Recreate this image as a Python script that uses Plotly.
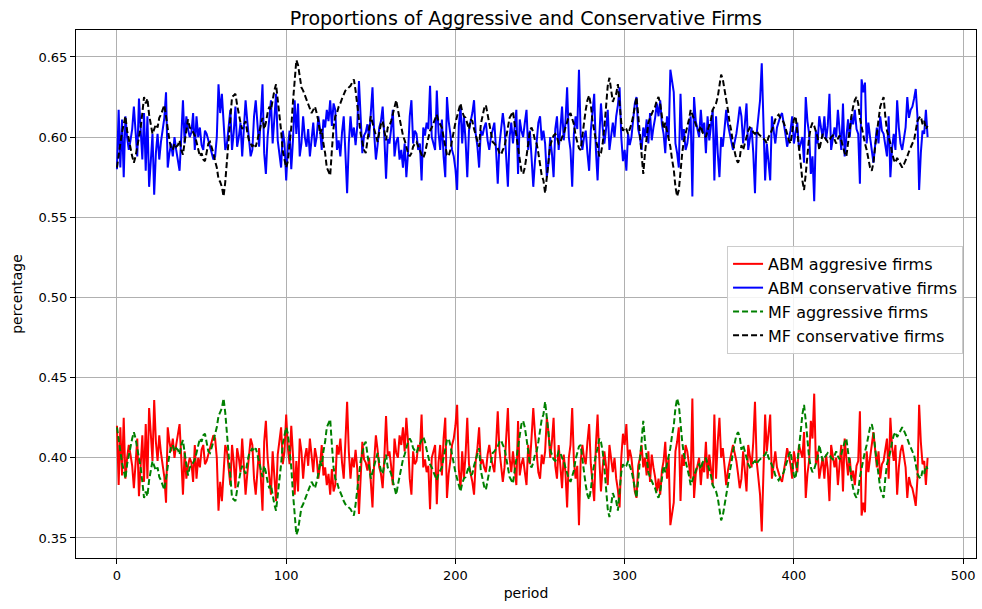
import plotly.graph_objects as go

# Share of conservative firms per period (agent-based model vs. mean-field)
abm_conservative = [
    0.580, 0.617, 0.581, 0.611, 0.575, 0.613, 0.600, 0.592, 0.598, 0.605,
    0.619, 0.600, 0.588, 0.624, 0.600, 0.586, 0.615, 0.579, 0.613, 0.569,
    0.585, 0.602, 0.564, 0.590, 0.602, 0.586, 0.597, 0.606, 0.612, 0.628,
    0.581, 0.590, 0.596, 0.588, 0.600, 0.592, 0.584, 0.579, 0.600, 0.623,
    0.596, 0.613, 0.605, 0.600, 0.603, 0.615, 0.592, 0.613, 0.600, 0.606,
    0.595, 0.592, 0.604, 0.602, 0.598, 0.594, 0.591, 0.586, 0.588, 0.600,
    0.633, 0.615, 0.627, 0.605, 0.592, 0.596, 0.605, 0.617, 0.592, 0.603,
    0.619, 0.594, 0.600, 0.609, 0.588, 0.605, 0.623, 0.610, 0.600, 0.588,
    0.592, 0.613, 0.623, 0.605, 0.594, 0.612, 0.633, 0.590, 0.577, 0.600,
    0.613, 0.623, 0.596, 0.615, 0.627, 0.598, 0.590, 0.581, 0.604, 0.596,
    0.573, 0.594, 0.604, 0.580, 0.598, 0.623, 0.602, 0.621, 0.588, 0.596,
    0.613, 0.600, 0.594, 0.605, 0.588, 0.600, 0.609, 0.594, 0.600, 0.613,
    0.605, 0.592, 0.611, 0.606, 0.617, 0.610, 0.623, 0.607, 0.621, 0.617,
    0.592, 0.598, 0.588, 0.603, 0.613, 0.590, 0.565, 0.596, 0.613, 0.600,
    0.606, 0.595, 0.607, 0.635, 0.613, 0.590, 0.601, 0.603, 0.608, 0.600,
    0.615, 0.631, 0.602, 0.586, 0.595, 0.606, 0.610, 0.619, 0.600, 0.574,
    0.599, 0.596, 0.605, 0.617, 0.588, 0.597, 0.600, 0.586, 0.592, 0.581,
    0.596, 0.575, 0.590, 0.613, 0.623, 0.596, 0.604, 0.602, 0.592, 0.596,
    0.573, 0.606, 0.601, 0.609, 0.605, 0.632, 0.600, 0.595, 0.592, 0.629,
    0.603, 0.592, 0.611, 0.588, 0.575, 0.625, 0.610, 0.602, 0.592, 0.588,
    0.580, 0.567, 0.607, 0.619, 0.596, 0.613, 0.598, 0.575, 0.604, 0.610,
    0.615, 0.623, 0.602, 0.594, 0.581, 0.604, 0.601, 0.606, 0.609, 0.598,
    0.592, 0.600, 0.605, 0.609, 0.592, 0.571, 0.595, 0.606, 0.615, 0.606,
    0.590, 0.569, 0.600, 0.609, 0.596, 0.605, 0.617, 0.577, 0.611, 0.604,
    0.600, 0.609, 0.617, 0.592, 0.604, 0.587, 0.569, 0.585, 0.600, 0.609,
    0.613, 0.598, 0.604, 0.596, 0.575, 0.584, 0.600, 0.590, 0.575, 0.605,
    0.613, 0.592, 0.605, 0.619, 0.598, 0.609, 0.631, 0.600, 0.592, 0.569,
    0.602, 0.613, 0.605, 0.642, 0.602, 0.592, 0.600, 0.604, 0.590, 0.579,
    0.604, 0.615, 0.627, 0.592, 0.573, 0.600, 0.621, 0.606, 0.596, 0.605,
    0.617, 0.592, 0.600, 0.609, 0.600, 0.613, 0.620, 0.631, 0.600, 0.585,
    0.592, 0.579, 0.602, 0.595, 0.600, 0.610, 0.621, 0.625, 0.605, 0.600,
    0.592, 0.606, 0.600, 0.611, 0.596, 0.615, 0.598, 0.606, 0.612, 0.621,
    0.613, 0.623, 0.608, 0.602, 0.590, 0.613, 0.600, 0.642, 0.634, 0.628,
    0.596, 0.590, 0.581, 0.627, 0.598, 0.605, 0.592, 0.596, 0.604, 0.613,
    0.563, 0.625, 0.610, 0.604, 0.600, 0.617, 0.603, 0.609, 0.590, 0.613,
    0.598, 0.607, 0.617, 0.573, 0.613, 0.590, 0.575, 0.600, 0.594, 0.605,
    0.617, 0.608, 0.602, 0.598, 0.592, 0.597, 0.602, 0.610, 0.619, 0.613,
    0.596, 0.608, 0.621, 0.592, 0.599, 0.606, 0.590, 0.565, 0.602, 0.612,
    0.623, 0.646, 0.602, 0.573, 0.596, 0.585, 0.573, 0.613, 0.605, 0.596,
    0.606, 0.610, 0.613, 0.615, 0.609, 0.602, 0.594, 0.599, 0.604, 0.613,
    0.596, 0.603, 0.609, 0.592, 0.596, 0.600, 0.584, 0.625, 0.610, 0.602,
    0.577, 0.588, 0.560, 0.604, 0.596, 0.613, 0.606, 0.600, 0.613, 0.598,
    0.607, 0.627, 0.592, 0.600, 0.606, 0.600, 0.617, 0.604, 0.592, 0.621,
    0.588, 0.600, 0.611, 0.600, 0.613, 0.608, 0.617, 0.605, 0.602, 0.571,
    0.636, 0.628, 0.634, 0.596, 0.609, 0.600, 0.592, 0.584, 0.595, 0.606,
    0.596, 0.613, 0.604, 0.602, 0.595, 0.588, 0.613, 0.575, 0.593, 0.602,
    0.592, 0.623, 0.606, 0.596, 0.592, 0.600, 0.606, 0.625, 0.612, 0.617,
    0.619, 0.624, 0.630, 0.613, 0.567, 0.590, 0.604, 0.602, 0.617, 0.600,
]

mf_conservative = [
    0.581, 0.590, 0.596, 0.603, 0.609, 0.613, 0.604, 0.598, 0.592, 0.588,
    0.584, 0.588, 0.594, 0.600, 0.606, 0.615, 0.625, 0.621, 0.624, 0.614,
    0.607, 0.602, 0.605, 0.608, 0.606, 0.612, 0.614, 0.617, 0.620, 0.613,
    0.604, 0.598, 0.593, 0.592, 0.596, 0.594, 0.595, 0.598, 0.592, 0.589,
    0.597, 0.604, 0.611, 0.606, 0.605, 0.603, 0.601, 0.597, 0.592, 0.588,
    0.590, 0.586, 0.585, 0.590, 0.596, 0.597, 0.594, 0.590, 0.585, 0.581,
    0.574, 0.572, 0.569, 0.563, 0.572, 0.585, 0.600, 0.614, 0.625, 0.626,
    0.627, 0.620, 0.613, 0.609, 0.605, 0.607, 0.610, 0.603, 0.598, 0.596,
    0.594, 0.596, 0.594, 0.598, 0.603, 0.608, 0.612, 0.605, 0.609, 0.615,
    0.619, 0.617, 0.624, 0.629, 0.633, 0.624, 0.614, 0.604, 0.591, 0.586,
    0.581, 0.585, 0.595, 0.606, 0.622, 0.638, 0.648, 0.645, 0.639, 0.631,
    0.629, 0.626, 0.623, 0.621, 0.617, 0.615, 0.617, 0.619, 0.615, 0.610,
    0.602, 0.605, 0.596, 0.590, 0.581, 0.578, 0.576, 0.592, 0.606, 0.613,
    0.615, 0.619, 0.621, 0.624, 0.627, 0.629, 0.630, 0.631, 0.632, 0.634,
    0.636, 0.629, 0.619, 0.610, 0.602, 0.597, 0.592, 0.590, 0.598, 0.606,
    0.613, 0.609, 0.605, 0.600, 0.597, 0.603, 0.608, 0.610, 0.604, 0.598,
    0.606, 0.607, 0.610, 0.614, 0.619, 0.623, 0.617, 0.611, 0.605, 0.601,
    0.598, 0.593, 0.590, 0.588, 0.590, 0.594, 0.596, 0.597, 0.594, 0.591,
    0.589, 0.587, 0.590, 0.595, 0.600, 0.604, 0.606, 0.609, 0.612, 0.614,
    0.610, 0.608, 0.606, 0.600, 0.594, 0.589, 0.588, 0.592, 0.598, 0.604,
    0.609, 0.613, 0.617, 0.621, 0.616, 0.613, 0.612, 0.608, 0.605, 0.611,
    0.610, 0.605, 0.601, 0.598, 0.594, 0.608, 0.614, 0.618, 0.620, 0.614,
    0.608, 0.603, 0.597, 0.596, 0.594, 0.593, 0.590, 0.589, 0.592, 0.594,
    0.600, 0.606, 0.612, 0.614, 0.616, 0.608, 0.600, 0.592, 0.585, 0.579,
    0.577, 0.581, 0.588, 0.595, 0.604, 0.606, 0.603, 0.598, 0.596, 0.590,
    0.584, 0.576, 0.573, 0.565, 0.575, 0.587, 0.595, 0.598, 0.601, 0.602,
    0.600, 0.596, 0.597, 0.600, 0.602, 0.606, 0.610, 0.613, 0.615, 0.612,
    0.608, 0.601, 0.597, 0.593, 0.592, 0.602, 0.609, 0.617, 0.623, 0.626,
    0.620, 0.610, 0.603, 0.598, 0.594, 0.588, 0.590, 0.596, 0.606, 0.620,
    0.632, 0.637, 0.628, 0.622, 0.625, 0.627, 0.633, 0.620, 0.609, 0.604,
    0.606, 0.605, 0.602, 0.605, 0.608, 0.613, 0.618, 0.625, 0.614, 0.600,
    0.587, 0.577, 0.590, 0.602, 0.609, 0.612, 0.615, 0.617, 0.619, 0.623,
    0.625, 0.621, 0.613, 0.605, 0.609, 0.604, 0.597, 0.594, 0.586, 0.580,
    0.569, 0.563, 0.567, 0.580, 0.590, 0.598, 0.602, 0.606, 0.611, 0.617,
    0.614, 0.612, 0.608, 0.605, 0.604, 0.607, 0.603, 0.601, 0.600, 0.604,
    0.607, 0.611, 0.617, 0.619, 0.621, 0.625, 0.633, 0.639, 0.636, 0.630,
    0.624, 0.617, 0.609, 0.604, 0.596, 0.590, 0.586, 0.584, 0.587, 0.595,
    0.592, 0.596, 0.600, 0.604, 0.606, 0.605, 0.603, 0.602, 0.604, 0.602,
    0.601, 0.600, 0.599, 0.598, 0.596, 0.600, 0.602, 0.604, 0.607, 0.611,
    0.613, 0.614, 0.612, 0.611, 0.609, 0.606, 0.602, 0.598, 0.596, 0.604,
    0.611, 0.613, 0.604, 0.592, 0.584, 0.573, 0.567, 0.577, 0.590, 0.600,
    0.606, 0.609, 0.607, 0.604, 0.600, 0.592, 0.598, 0.602, 0.600, 0.598,
    0.597, 0.598, 0.600, 0.601, 0.598, 0.596, 0.599, 0.601, 0.598, 0.594,
    0.590, 0.588, 0.597, 0.605, 0.613, 0.619, 0.623, 0.625, 0.621, 0.612,
    0.606, 0.600, 0.596, 0.592, 0.586, 0.581, 0.579, 0.584, 0.594, 0.603,
    0.613, 0.619, 0.622, 0.625, 0.613, 0.604, 0.600, 0.596, 0.590, 0.586,
    0.584, 0.587, 0.585, 0.583, 0.581, 0.583, 0.585, 0.588, 0.591, 0.594,
    0.596, 0.598, 0.604, 0.610, 0.612, 0.613, 0.608, 0.610, 0.605, 0.607,
]

# The two firm types are complementary shares of the population
abm_aggressive = [round(1 - v, 3) for v in abm_conservative]
mf_aggressive = [round(1 - v, 3) for v in mf_conservative]
periods = list(range(len(abm_conservative)))

x_ticks = [0, 100, 200, 300, 400, 500]
y_ticks = [0.35, 0.40, 0.45, 0.50, 0.55, 0.60, 0.65]

FONT = "DejaVu Sans"
DASH = "6px,3px"

fig = go.Figure()
fig.add_trace(go.Scatter(x=periods, y=abm_aggressive, mode="lines",
                         name="ABM aggresive firms",
                         line=dict(color="#ff0000", width=2)))
fig.add_trace(go.Scatter(x=periods, y=abm_conservative, mode="lines",
                         name="ABM conservative firms",
                         line=dict(color="#0000ff", width=2)))
fig.add_trace(go.Scatter(x=periods, y=mf_aggressive, mode="lines",
                         name="MF aggressive firms",
                         line=dict(color="#008000", width=2, dash=DASH)))
fig.add_trace(go.Scatter(x=periods, y=mf_conservative, mode="lines",
                         name="MF conservative firms",
                         line=dict(color="#000000", width=2, dash=DASH)))

axis_common = dict(
    showline=True, mirror=True, linecolor="black", linewidth=1,
    ticks="outside", ticklen=5, tickcolor="black", tickwidth=1,
    showgrid=True, gridcolor="#b0b0b0", gridwidth=1,
    zeroline=False,
    tickfont=dict(family=FONT, size=13, color="black"),
)

fig.update_layout(
    width=982, height=609,
    margin=dict(l=76, r=6, t=30, b=51),
    paper_bgcolor="white", plot_bgcolor="white",
    font=dict(family=FONT, color="black"),
    title=dict(text="Proportions of Aggressive and Conservative Firms",
               x=0.5355, xanchor="center", y=1 - 18 / 609, yanchor="middle",
               font=dict(family=FONT, size=19, color="black")),
    xaxis=dict(axis_common, range=[-24.2, 507.6], tickvals=x_ticks,
               title=dict(text="period", standoff=6,
                          font=dict(family=FONT, size=14))),
    yaxis=dict(axis_common, range=[0.3375, 0.6668], tickvals=y_ticks,
               tickformat=".2f",
               title=dict(text="percentage", standoff=12,
                          font=dict(family=FONT, size=14))),
    legend=dict(x=0.9856, xanchor="right", y=0.591, yanchor="top",
                bgcolor="rgba(255,255,255,0.85)", bordercolor="#cccccc",
                borderwidth=1, font=dict(family=FONT, size=16),
                tracegroupgap=0),
    showlegend=True,
)

fig.write_html("out.html")
